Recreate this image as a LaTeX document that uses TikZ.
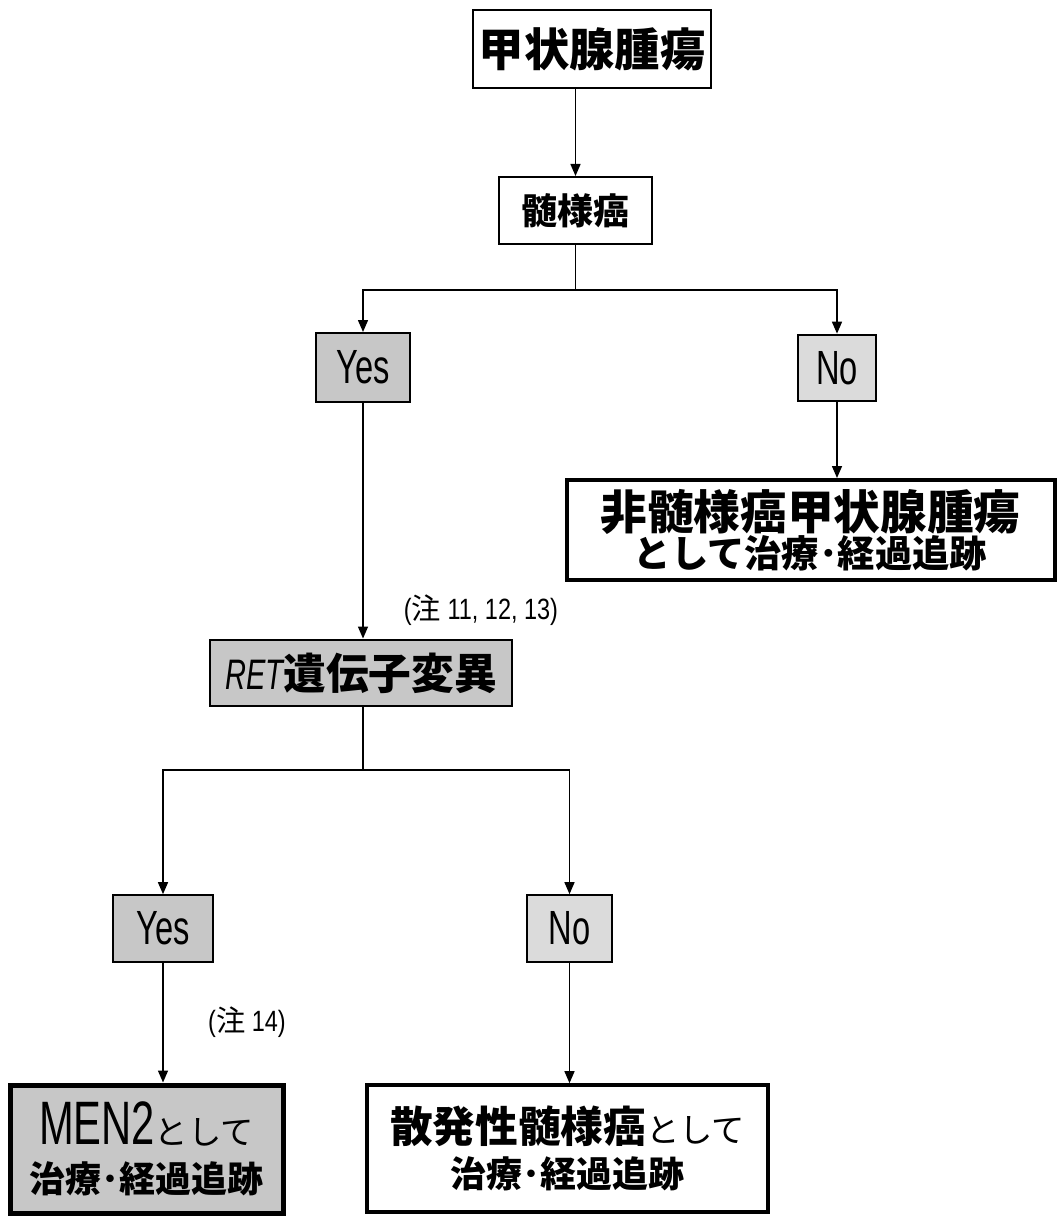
\documentclass[tikz,border=0pt]{standalone}
\usepackage{fontspec}
\setmainfont{Noto Sans CJK JP}
\newfontfamily\lat[FakeStretch=0.68]{Liberation Sans}
\newfontfamily\latn[FakeStretch=0.8]{Liberation Sans}
\usetikzlibrary{arrows.meta}
\begin{document}
\begin{tikzpicture}[x=0.75pt,y=-0.75pt,
  box/.style={draw=black, fill=white, line width=1.5pt, inner sep=0pt, align=center},
  thick box/.style={box, line width=3pt},
  grey/.style={fill=black!22},
  light/.style={fill=black!14},
  conn/.style={line width=1.1pt},
  arr/.style={conn, -{Triangle[length=9pt,width=7.5pt]}},
  note/.style={inner sep=0pt}
]
\useasboundingbox (0,0) rectangle (1057,1227);

% nodes
\node[box, minimum width=179pt, minimum height=58.5pt] (top) at (592,49)
  {\bfseries\fontsize{34}{36}\selectfont 甲状腺腫瘍};
\node[box, minimum width=114.75pt, minimum height=50.25pt] (mid) at (575.5,210.5)
  {\bfseries\fontsize{27}{30}\selectfont 髄様癌};
\node[box, grey, minimum width=70.5pt, minimum height=51.75pt] (yes1) at (363,367.5)
  {\lat\fontsize{36}{40}\selectfont Yes};
\node[box, light, minimum width=59pt, minimum height=50pt] (no1) at (837,368)
  {\lat\fontsize{36}{40}\selectfont No};
\node[thick box, minimum width=366pt, minimum height=75pt] (non) at (810.5,530)
  {\bfseries\fontsize{35}{40}\selectfont 非髄様癌甲状腺腫瘍\\
   \bfseries\fontsize{28}{35}\selectfont として治療･経過追跡};
\node[note] (n1) at (481,610) {\latn\fontsize{22}{26}\selectfont (\normalfont 注\latn{} 11, 12, 13)};
\node[box, grey, line width=2.2pt, minimum width=226.5pt, minimum height=49.5pt] (ret) at (361,673)
  {{\lat\itshape\fontsize{32}{36}\selectfont RET}\bfseries\fontsize{32}{36}\selectfont 遺伝子変異};
\node[box, grey, minimum width=75pt, minimum height=50pt] (yes2) at (163,928.5)
  {\lat\fontsize{36}{40}\selectfont Yes};
\node[box, light, minimum width=64pt, minimum height=50pt] (no2) at (569.5,928.5)
  {\lat\fontsize{36}{40}\selectfont No};
\node[note] (n2) at (247,1022) {\latn\fontsize{22}{26}\selectfont (\normalfont 注\latn{} 14)};
\node[thick box, grey, line width=3.75pt, minimum width=204.75pt, minimum height=96pt] (men) at (146.5,1149)
  {{\lat\fontsize{46}{50}\selectfont MEN2}{\fontsize{25}{28}\selectfont として}\\[11pt]
   \bfseries\fontsize{27}{42}\selectfont 治療･経過追跡};
\node[thick box, minimum width=300.75pt, minimum height=95pt] (spo) at (567.5,1148.5)
  {{\bfseries\fontsize{32}{38}\selectfont 散発性髄様癌}{\fontsize{25}{38}\selectfont として}\\[7pt]
   \bfseries\fontsize{27}{38}\selectfont 治療･経過追跡};

% connectors
\coordinate (j1) at (575.5,290);
\coordinate (j2) at (363,770);
\draw[arr] (mid.north |- top.south) -- (mid.north);
\draw[conn] (mid.south) -- (j1);
\draw[arr] (j1) -| (yes1.north);
\draw[arr] (j1) -| (no1.north);
\draw[arr] (yes1.south) -- (yes1.south |- ret.north);
\draw[arr] (no1.south) -- (no1.south |- non.north);
\draw[conn] (yes1.south |- ret.south) -- (j2);
\draw[arr] (j2) -| (yes2.north);
\draw[arr] (j2) -| (no2.north);
\draw[arr] (yes2.south) -- (yes2.south |- men.north);
\draw[arr] (no2.south) -- (no2.south |- spo.north);
\end{tikzpicture}
\end{document}
